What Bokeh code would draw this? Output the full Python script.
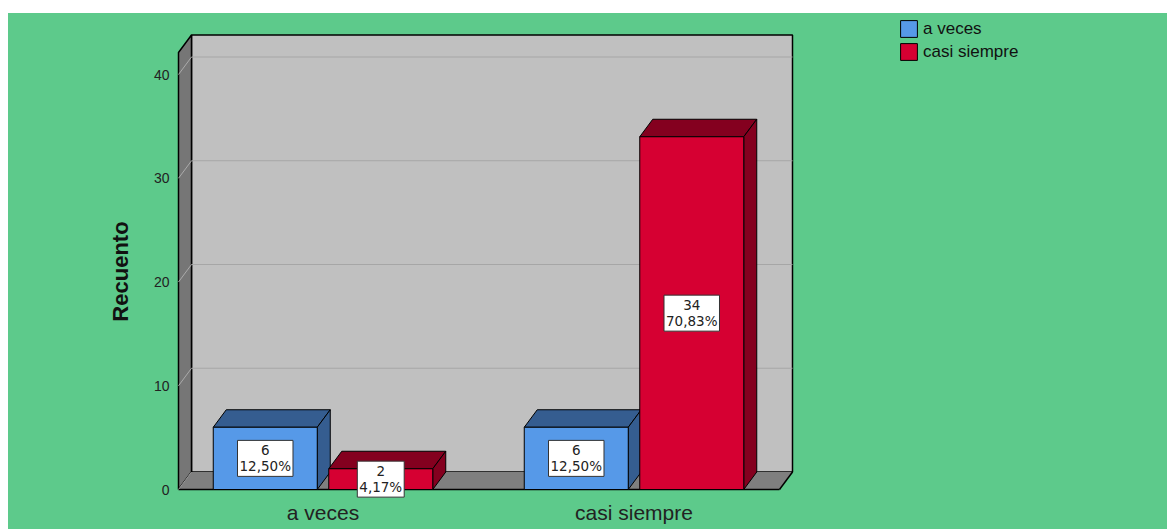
from bokeh.plotting import figure
from bokeh.models import Range1d, FixedTicker, Legend, LegendItem, Spacer
from bokeh.layouts import column, row
from bokeh.embed import file_html
from bokeh.resources import INLINE
from bokeh.core.properties import value

# ---- data ----
categories = ["a veces", "casi siempre"]
series_names = ["a veces", "casi siempre"]
count_a_veces = [6, 6]
count_casi_siempre = [2, 34]
pct_a_veces = ["12,50%", "12,50%"]
pct_casi_siempre = ["4,17%", "70,83%"]
y_ticks = [0, 10, 20, 30, 40]

# ---- style ----
GREEN = "#5DCA8B"
WALL_BACK = "#C0C0C0"
WALL_LEFT = "#767676"
FLOOR = "#7F7F7F"
GRID = "#A6A6A6"
FRONT = ["#5699E8", "#D60032"]
DARK = ["#355D90", "#84001F"]
FONT = "Liberation Sans"

# geometry in data units (group spacing = 1 unit on x)
BAR_W = 104 / 311
GAP = 11.5 / 311
DX = 13 / 311
DY = 17.5 / 10.375
X_LEFT = 1 - 144.5 / 311
X_RIGHT = 1 + (779 - 322.5) / 311
WALL_TOP = (489 - 52) / 10.375

p = figure(width=1159, height=516, output_backend="svg", toolbar_location=None,
           x_range=Range1d(1 - (322.5 - 176) / 311, 1 + (1167 - 322.5) / 311),
           y_range=Range1d(-(529 - 489) / 10.375, (489 - 13) / 10.375),
           x_axis_location=None,
           min_border_left=168, min_border_right=0, min_border_top=0, min_border_bottom=0,
           background_fill_color=None, border_fill_color=None, outline_line_color=None,
           styles={"background-color": GREEN})
p.xgrid.visible = False
p.ygrid.visible = False

yax = p.yaxis[0]
yax.ticker = FixedTicker(ticks=y_ticks)
yax.axis_line_color = None
yax.major_tick_line_color = None
yax.minor_tick_line_color = None
yax.major_tick_in = 0
yax.major_tick_out = 0
yax.major_label_standoff = 7
yax.major_label_text_font = FONT
yax.major_label_text_font_size = "14px"
yax.major_label_text_color = "#222222"
yax.axis_label = "Recuento"
yax.axis_label_text_font = FONT
yax.axis_label_text_font_size = "22px"
yax.axis_label_text_font_style = "bold"
yax.axis_label_text_color = "#111111"
yax.axis_label_standoff = 18

# back wall
p.patch([X_LEFT + DX, X_RIGHT + DX, X_RIGHT + DX, X_LEFT + DX],
        [DY, DY, WALL_TOP + DY, WALL_TOP + DY],
        fill_color=WALL_BACK, line_color="black", line_width=1.5)
# left wall
p.patch([X_LEFT, X_LEFT + DX, X_LEFT + DX, X_LEFT],
        [0, DY, WALL_TOP + DY, WALL_TOP],
        fill_color=WALL_LEFT, line_color="black", line_width=1.5)
# floor
p.patch([X_LEFT, X_RIGHT, X_RIGHT + DX, X_LEFT + DX],
        [0, 0, DY, DY], fill_color=FLOOR, line_color=None)
p.segment(x0=[X_LEFT, X_RIGHT], y0=[0, 0], x1=[X_RIGHT, X_RIGHT + DX], y1=[0, DY],
          line_color="black", line_width=1.5)
p.segment(x0=[X_LEFT], y0=[0], x1=[X_LEFT + DX], y1=[DY], line_color="#9A9A9A", line_width=1)

# gridlines
grid_t = [t for t in y_ticks if t > 0]
p.segment(x0=[X_LEFT + DX] * len(grid_t), y0=[t + DY for t in grid_t],
          x1=[X_RIGHT + DX] * len(grid_t), y1=[t + DY for t in grid_t],
          line_color=GRID, line_width=1)
p.segment(x0=[X_LEFT] * len(grid_t), y0=grid_t,
          x1=[X_LEFT + DX] * len(grid_t), y1=[t + DY for t in grid_t],
          line_color="#ABABAB", line_width=1)

# bars
all_counts = [count_a_veces, count_casi_siempre]
all_pcts = [pct_a_veces, pct_casi_siempre]
front_renderers = []
for s, (vals, pcts) in enumerate(zip(all_counts, all_pcts)):
    centers = [i + 1 for i in range(len(categories))]
    x1 = [c - GAP / 2 - BAR_W if s == 0 else c + GAP / 2 for c in centers]
    x2 = [a + BAR_W for a in x1]
    # top faces
    p.patches(xs=[[a, b, b + DX, a + DX] for a, b in zip(x1, x2)],
              ys=[[v, v, v + DY, v + DY] for v in vals],
              fill_color=DARK[s], line_color="black", line_width=1)
    # side faces
    p.patches(xs=[[b, b + DX, b + DX, b] for b in x2],
              ys=[[0, DY, v + DY, v] for v in vals],
              fill_color=DARK[s], line_color="black", line_width=1)
    # front faces
    r = p.quad(left=x1, right=x2, bottom=[0] * len(vals), top=vals,
               fill_color=FRONT[s], line_color="black", line_width=1)
    front_renderers.append(r)
    # value labels
    p.text(x=[(a + b) / 2 for a, b in zip(x1, x2)], y=[v / 2 for v in vals],
           text=[f"{v}\n{pc}" for v, pc in zip(vals, pcts)],
           text_align="center", text_baseline="middle",
           text_font=value("DejaVu Sans"), text_font_size="13.5px", text_color="#222222",
           text_line_height=1.0,
           background_fill_color="white", border_line_color="#333333", border_line_width=1,
           padding=2)

# category labels
p.text(x=[i + 1 for i in range(len(categories))], y=[(489 - 512) / 10.375] * len(categories),
       text=categories, text_align="center", text_baseline="middle",
       text_font=value(FONT), text_font_size="21px", text_color="#222222")

legend = Legend(items=[LegendItem(label=n, renderers=[r]) for n, r in zip(series_names, front_renderers)],
                location=(722, 467), orientation="vertical",
                glyph_width=21, glyph_height=21, label_standoff=4, spacing=2,
                padding=0, margin=0, border_line_color=None, background_fill_alpha=0,
                label_text_font=FONT, label_text_font_size="17px", label_text_color="#111111")
p.add_layout(legend)

layout = column(Spacer(width=1167, height=13), row(Spacer(width=8, height=516), p))
open("out.html", "w").write(file_html(layout, INLINE))
